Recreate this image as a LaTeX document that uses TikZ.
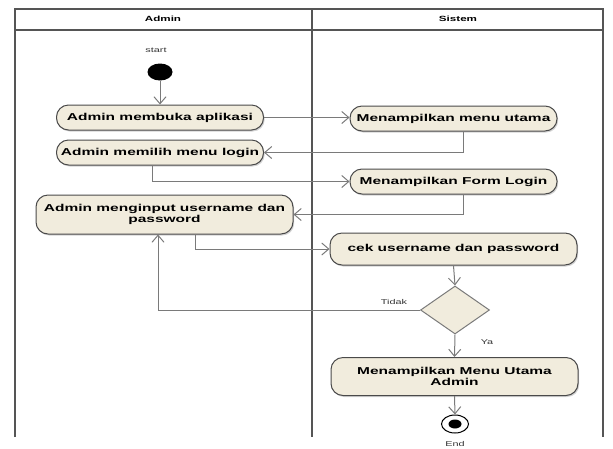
\documentclass[tikz,border=0pt]{standalone}
\usepackage{fontspec}
\setmainfont{Liberation Sans}[FakeStretch=1.55]
\usetikzlibrary{arrows.meta,shapes.geometric,shadows}
\definecolor{actfill}{HTML}{F1ECDD}
\definecolor{actline}{HTML}{4A4A4A}
\definecolor{flowline}{HTML}{7A7A7A}
\definecolor{laneline}{HTML}{555555}
\tikzset{
  act/.style={draw=actline, line width=1pt, fill=actfill, rounded corners=12pt,
    minimum width=207pt, minimum height=25pt, inner sep=1pt, align=center,
    font=\fontsize{10}{11.5}\selectfont\bfseries,
    drop shadow={opacity=0.35, shadow xshift=1.2pt, shadow yshift=-1.5pt}},
  decision/.style={diamond, draw=flowline, line width=1pt, fill=actfill,
    minimum width=69pt, minimum height=48pt, inner sep=0pt},
  flow/.style={draw=flowline, line width=1pt, -{Straight Barb[length=7pt,width=12pt,line width=1pt]}},
  lane/.style={draw=laneline, line width=1.3pt},
  small/.style={font=\fontsize{7}{8}\selectfont, text=black!80},
  header/.style={font=\fontsize{7.5}{8}\selectfont\bfseries}
}
\begin{document}
\begin{tikzpicture}[x=1pt,y=-1pt]
  \useasboundingbox (0,0) rectangle (613,448);
  % swimlanes
  \draw[lane] (15,437) -- (15,9) -- (603,9) -- (603,437);
  \draw[lane] (312,9) -- (312,437);
  \draw[lane] (15,30) -- (603,30);
  \node[header] (hadmin) at (163,19) {Admin};
  \node[header] (hsistem) at (458,19) {Sistem};

  % initial node
  \node[small] (startlbl) at (156,50) {start};
  \node[ellipse, fill=black, minimum width=25pt, minimum height=17pt, inner sep=0pt] (start) at (160,72) {};

  % activities
  \node[act] (buka) at (160,117.5) {Admin membuka aplikasi};
  \node[act] (pilih) at (160,152.5) {Admin memilih menu login};
  \node[act, minimum width=257pt, minimum height=39pt] (input) at (164.5,214.5) {Admin menginput username dan\\password};
  \node[act] (utama) at (453.5,118.5) {Menampilkan menu utama};
  \node[act] (form) at (453.5,181.5) {Menampilkan Form Login};
  \node[act, minimum width=247pt, minimum height=32pt] (cek) at (453.5,249) {cek username dan password};
  \node[decision] (dec) at (455,310) {};
  \node[act, minimum width=247pt, minimum height=38pt] (admin) at (454.5,376.5) {Menampilkan Menu Utama\\Admin};

  % final node
  \node[ellipse, draw=black, line width=1pt, fill=white, minimum width=27pt, minimum height=18pt, inner sep=0pt] (end) at (455,424) {};
  \node[ellipse, fill=black, minimum width=13pt, minimum height=9pt, inner sep=0pt] (enddot) at (end.center) {};
  \node[small] (endlbl) at (455,444) {End};

  % control flows
  \draw[flow] (start) -- (buka);
  \draw[flow] (buka.east) -- (buka.east -| utama.west);
  \draw[flow] ([xshift=9.5pt]utama.south) |- (pilih.east);
  \draw[flow] ([xshift=-8pt]pilih.south) |- (form.west);
  \draw[flow] ([xshift=9.5pt]form.south) |- (input.east);
  \draw[flow] ([xshift=30.5pt]input.south) |- (cek.west);
  \draw[flow] (cek.south) -- (dec.north);
  \draw[flow] (dec.west) -| ([xshift=-6.5pt]input.south);
  \draw[flow] (dec.south) -- (admin.north);
  \draw[flow] (admin.south) -- (end.north);

  % guards
  \node[small] (tidak) at (394,302) {Tidak};
  \node[small] (ya) at (487,342) {Ya};
\end{tikzpicture}
\end{document}
